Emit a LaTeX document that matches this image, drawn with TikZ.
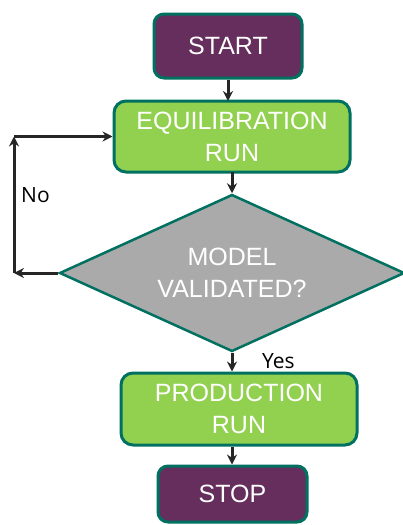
\documentclass[tikz,border=0pt]{standalone}
\usepackage{fontspec}
\setmainfont{Liberation Sans}
\newfontfamily\labelfont{Open Sans}
\usetikzlibrary{shapes.geometric,arrows.meta}
\definecolor{boxpurple}{RGB}{101,46,92}
\definecolor{boxgreen}{RGB}{146,208,80}
\definecolor{boxgray}{RGB}{170,170,170}
\definecolor{edgeteal}{RGB}{0,112,96}
\definecolor{linedark}{RGB}{38,38,38}
\tikzset{
  base/.style={draw=edgeteal, line width=3pt, text=white, align=center,
    font=\fontsize{25}{32}\selectfont, inner sep=0pt},
  termbox/.style={base, fill=boxpurple, rounded corners=10pt},
  procbox/.style={base, fill=boxgreen, rounded corners=12pt},
  decbox/.style={base, fill=boxgray, diamond, aspect=2.175, line width=2.5pt},
  conn/.style={draw=linedark, line width=3pt, -{Stealth[length=10pt,width=10pt]}},
  lbl/.style={font=\labelfont\fontsize{21}{24}\selectfont, text=black, inner sep=0pt}
}
\begin{document}
\begin{tikzpicture}[x=1pt,y=-1pt]
\useasboundingbox (0,0) rectangle (403,525);
\node[termbox, minimum width=148pt, minimum height=64pt] (start) at (228,46) {START};
\node[procbox, minimum width=236pt, minimum height=71pt] (equil) at (232,136.5) {EQUILIBRATION\\RUN};
\node[decbox, minimum width=345pt, minimum height=157pt] (model) at (232,273) {MODEL\\VALIDATED?};
\node[procbox, minimum width=236pt, minimum height=72pt] (prod) at (239,409) {PRODUCTION\\RUN};
\node[termbox, minimum width=149pt, minimum height=56pt] (stop) at (232.5,494) {STOP};
\coordinate (lb) at (14,273);
\coordinate (lt) at (14,136.5);
\draw[conn] (start.south -| 228,0) -- (228,101);
\draw[conn] (232,172) -- (model.north);
\draw[conn] (model.south) -- (prod.north -| model.south);
\draw[conn] (prod.south -| model.south) -- (stop.north -| model.south);
\draw[conn] (model.west) -- (lb);
\draw[conn] (lb) -- (lt);
\draw[conn] (lt) -- (equil.west);
\node[lbl, anchor=west] (no) at (21,195) {No};
\node[lbl, anchor=west] (yes) at (262,361) {Yes};
\end{tikzpicture}
\end{document}
